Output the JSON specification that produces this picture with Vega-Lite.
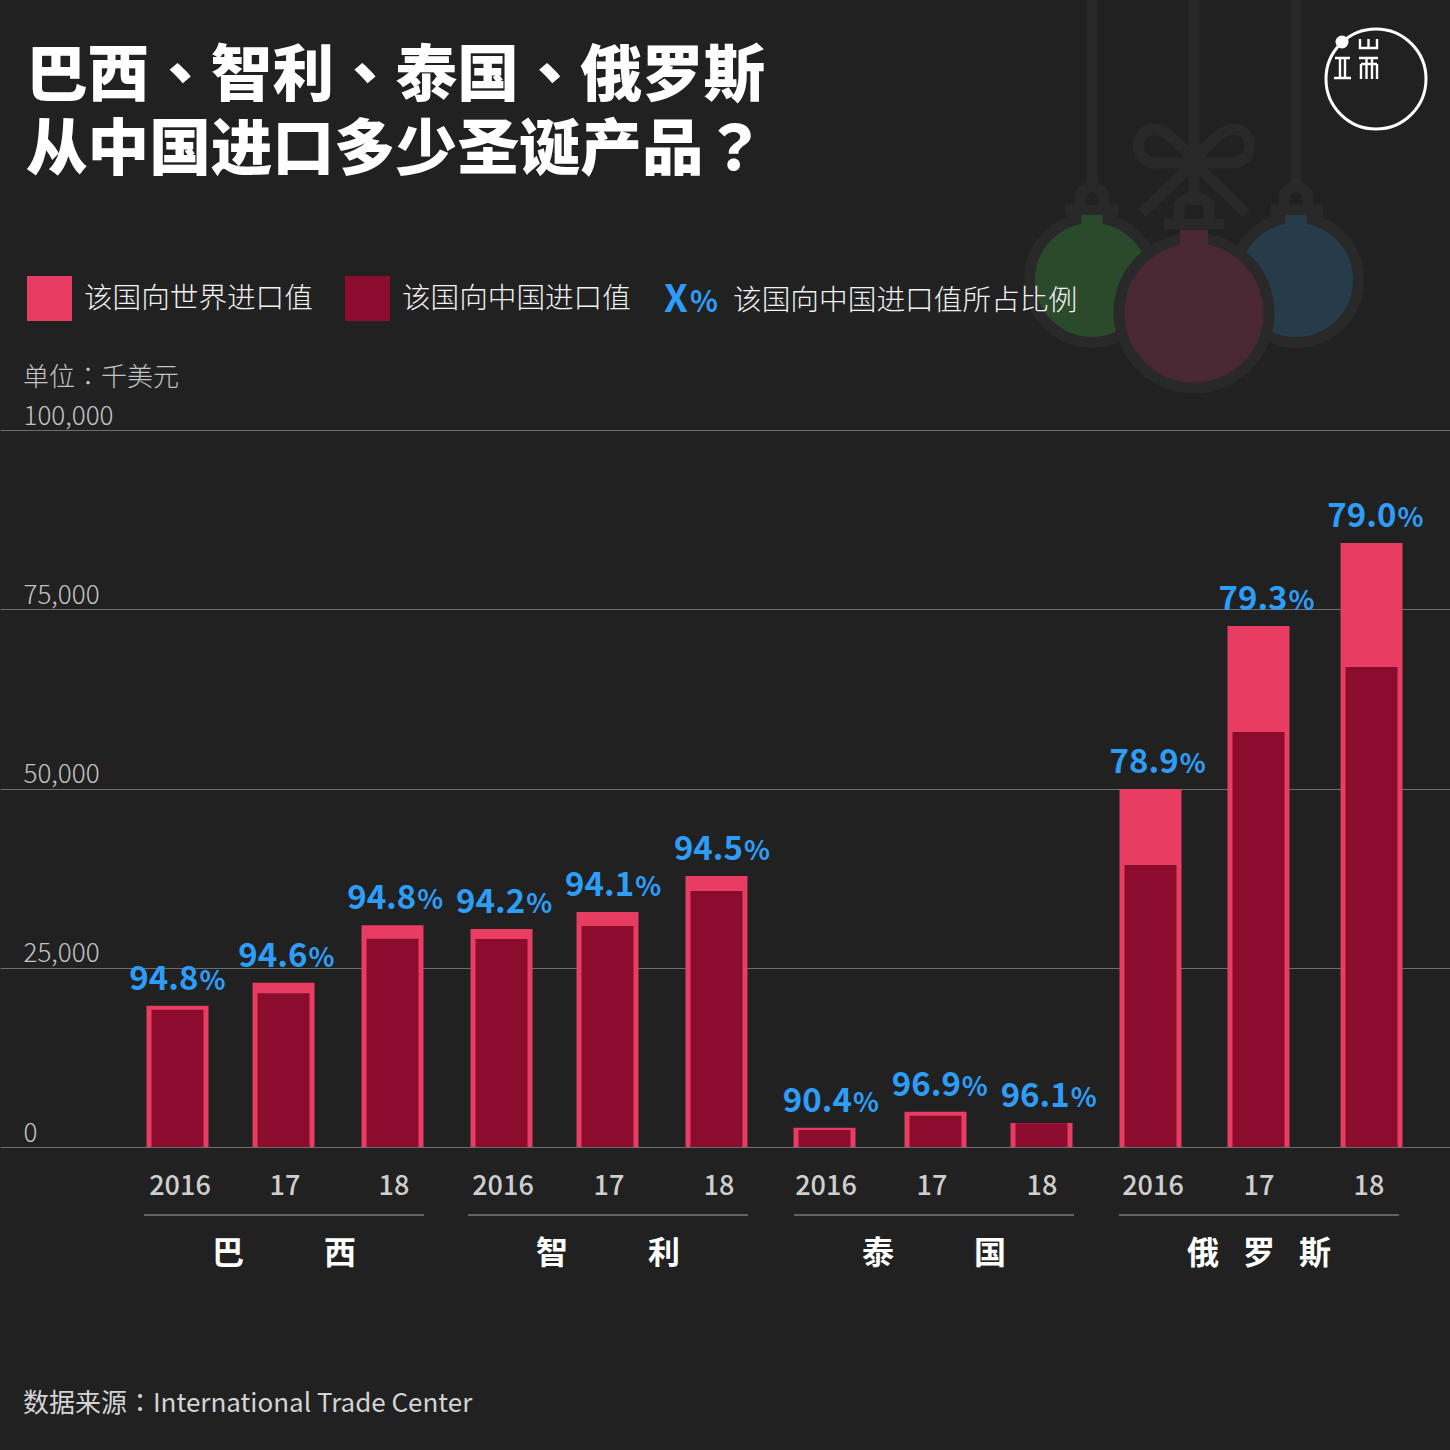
{
  "$schema": "https://vega.github.io/schema/vega-lite/v6.json",
  "width": 1450,
  "height": 1450,
  "autosize": {"type": "none"},
  "padding": 0,
  "background": "#212121",
  "view": {"stroke": null},
  "config": {"font": "Noto Sans CJK TC", "text": {"font": "Noto Sans CJK TC"}},
  "datasets": {
    "bars": [
      {"country": "巴西", "year": "2016", "slot": 0, "series": "该国向世界进口值", "value": 19720, "share": 94.8},
      {"country": "巴西", "year": "17", "slot": 1, "series": "该国向世界进口值", "value": 22930, "share": 94.6},
      {"country": "巴西", "year": "18", "slot": 2, "series": "该国向世界进口值", "value": 30930, "share": 94.8},
      {"country": "智利", "year": "2016", "slot": 3, "series": "该国向世界进口值", "value": 30420, "share": 94.2},
      {"country": "智利", "year": "17", "slot": 4, "series": "该国向世界进口值", "value": 32790, "share": 94.1},
      {"country": "智利", "year": "18", "slot": 5, "series": "该国向世界进口值", "value": 37810, "share": 94.5},
      {"country": "泰国", "year": "2016", "slot": 6, "series": "该国向世界进口值", "value": 2690, "share": 90.4},
      {"country": "泰国", "year": "17", "slot": 7, "series": "该国向世界进口值", "value": 4930, "share": 96.9},
      {"country": "泰国", "year": "18", "slot": 8, "series": "该国向世界进口值", "value": 3350, "share": 96.1},
      {"country": "俄罗斯", "year": "2016", "slot": 9, "series": "该国向世界进口值", "value": 49950, "share": 78.9},
      {"country": "俄罗斯", "year": "17", "slot": 10, "series": "该国向世界进口值", "value": 72690, "share": 79.3},
      {"country": "俄罗斯", "year": "18", "slot": 11, "series": "该国向世界进口值", "value": 84280, "share": 79.0},
      {"country": "巴西", "year": "2016", "slot": 0, "series": "该国向中国进口值", "value": 19160, "share": 94.8},
      {"country": "巴西", "year": "17", "slot": 1, "series": "该国向中国进口值", "value": 21450, "share": 94.6},
      {"country": "巴西", "year": "18", "slot": 2, "series": "该国向中国进口值", "value": 29060, "share": 94.8},
      {"country": "智利", "year": "2016", "slot": 3, "series": "该国向中国进口值", "value": 29020, "share": 94.2},
      {"country": "智利", "year": "17", "slot": 4, "series": "该国向中国进口值", "value": 30840, "share": 94.1},
      {"country": "智利", "year": "18", "slot": 5, "series": "该国向中国进口值", "value": 35720, "share": 94.5},
      {"country": "泰国", "year": "2016", "slot": 6, "series": "该国向中国进口值", "value": 2370, "share": 90.4},
      {"country": "泰国", "year": "17", "slot": 7, "series": "该国向中国进口值", "value": 4370, "share": 96.9},
      {"country": "泰国", "year": "18", "slot": 8, "series": "该国向中国进口值", "value": 3320, "share": 96.1},
      {"country": "俄罗斯", "year": "2016", "slot": 9, "series": "该国向中国进口值", "value": 39350, "share": 78.9},
      {"country": "俄罗斯", "year": "17", "slot": 10, "series": "该国向中国进口值", "value": 57900, "share": 79.3},
      {"country": "俄罗斯", "year": "18", "slot": 11, "series": "该国向中国进口值", "value": 66970, "share": 79.0}
    ],
    "groups": [
      {"label": "巴\u3000\u3000\u2002西", "first": 0, "mid": 1, "last": 2},
      {"label": "智\u3000\u3000\u2002利", "first": 3, "mid": 4, "last": 5},
      {"label": "泰\u3000\u3000\u2002国", "first": 6, "mid": 7, "last": 8},
      {"label": "俄\u2002\u2005罗\u2002\u2005斯", "first": 9, "mid": 10, "last": 11}
    ]
  },
  "resolve": {"scale": {"x": "independent"}, "axis": {"y": "independent"}},
  "layer": [
    {
      "data": {"name": "bars"},
      "transform": [{"filter": "datum.series == '该国向世界进口值'"}],
      "mark": {"type": "bar", "size": 62, "orient": "vertical"},
      "encoding": {
        "x": {"field": "slot", "type": "quantitative", "axis": null,
          "scale": {"domain": [-2,0,1,2,3,4,5,6,7,8,9,10,11,13], "range": [0,177.5,283.5,392.5,501.5,607.5,716.5,824.5,935.5,1041.5,1150.5,1258.5,1371.5,1450], "padding": 0}},
        "y": {"field": "value", "type": "quantitative", "stack": null, "title": null,
          "scale": {"domain": [-42277, 160039], "nice": false, "zero": false},
          "axis": {"values": [0, 25000, 50000, 75000, 100000], "labelExpr": "format(datum.value, ',')", "orient": "left", "domain": false, "ticks": false,
            "grid": true, "gridColor": "#6e6e6e", "gridWidth": 1, "labelAlign": "left", "labelBaseline": "alphabetic", "labelPadding": -23,
            "labelOffset": -6, "labelFontSize": 26, "labelFontWeight": 300, "labelColor": "#c4c4c4", "labelFont": "Noto Sans CJK TC"}},
        "color": {"field": "series", "type": "nominal",
          "scale": {"domain": ["该国向世界进口值", "该国向中国进口值"], "range": ["#E83C62", "#8C0C2E"]},
          "legend": {"orient": "none", "legendX": 27, "legendY": 276, "direction": "horizontal", "title": null, "symbolType": "square",
            "symbolSize": 2025, "symbolStrokeWidth": 0, "symbolOpacity": 1, "labelFontSize": 28.6, "labelColor": "#f2f2f2", "labelFont": "Noto Sans CJK TC",
            "labelFontWeight": 300, "labelOffset": 12, "columnPadding": 32, "padding": 0, "labelLimit": 400}}
      }
    },
    {
      "data": {"name": "bars"},
      "transform": [{"filter": "datum.series == '该国向中国进口值'"}],
      "mark": {"type": "bar", "size": 52, "orient": "vertical"},
      "encoding": {
        "x": {"field": "slot", "type": "quantitative", "axis": null,
          "scale": {"domain": [-2,0,1,2,3,4,5,6,7,8,9,10,11,13], "range": [0,177.5,283.5,392.5,501.5,607.5,716.5,824.5,935.5,1041.5,1150.5,1258.5,1371.5,1450], "padding": 0}},
        "y": {"field": "value", "type": "quantitative", "stack": null, "axis": null},
        "color": {"field": "series", "type": "nominal"}
      }
    },
    {
      "data": {"name": "bars"},
      "transform": [{"filter": "datum.series == '该国向世界进口值'"}],
      "mark": {"type": "text", "align": "right", "baseline": "alphabetic", "dx": 20, "dy": -16, "fontSize": 33, "fontWeight": 700, "color": "#2E9DF7"},
      "encoding": {
        "x": {"field": "slot", "type": "quantitative", "axis": null, "scale": {"domain": [0, 11], "range": [178.5, 1376.5]}},
        "y": {"field": "value", "type": "quantitative", "stack": null, "axis": null},
        "text": {"field": "share", "type": "quantitative", "format": ".1f"}
      }
    },
    {
      "data": {"name": "bars"},
      "transform": [{"filter": "datum.series == '该国向世界进口值'"}],
      "mark": {"type": "text", "align": "left", "baseline": "alphabetic", "dx": 21, "dy": -16, "fontSize": 27, "fontWeight": 700, "color": "#2E9DF7", "text": "%"},
      "encoding": {
        "x": {"field": "slot", "type": "quantitative", "axis": null, "scale": {"domain": [0, 11], "range": [178.5, 1376.5]}},
        "y": {"field": "value", "type": "quantitative", "stack": null, "axis": null}
      }
    },
    {
      "data": {"name": "bars"},
      "transform": [{"filter": "datum.series == '该国向世界进口值'"}],
      "mark": {"type": "text", "baseline": "alphabetic", "fontSize": 27, "fontWeight": 500, "color": "#cfcfcf"},
      "encoding": {
        "x": {"field": "slot", "type": "quantitative", "axis": null,
          "scale": {"domain": [0,1,2,3,4,5,6,7,8,9,10,11], "range": [180,285,394,503,609,719,826,932,1042,1153,1259,1369]}},
        "y": {"datum": -6698, "type": "quantitative", "axis": null},
        "text": {"field": "year", "type": "nominal"}
      }
    },
    {
      "data": {"name": "groups"},
      "layer": [
        {
          "mark": {"type": "rule", "color": "#7a7a7a", "strokeWidth": 1.5, "xOffset": -33, "x2Offset": 33},
          "encoding": {
            "x": {"field": "first", "type": "quantitative", "axis": null,
              "scale": {"domain": [0,2,3,5,6,8,9,11], "range": [177,391,501,715,827,1041,1152,1366]}},
            "x2": {"field": "last"},
            "y": {"datum": -9488, "type": "quantitative", "axis": null}
          }
        },
        {
          "mark": {"type": "text", "baseline": "middle", "fontSize": 32, "fontWeight": 700, "color": "#ffffff"},
          "encoding": {
            "x": {"field": "mid", "type": "quantitative", "axis": null},
            "y": {"datum": -14930, "type": "quantitative", "axis": null},
            "text": {"field": "label", "type": "nominal"}
          }
        }
      ]
    },
    {
      "data": {"values": [{}]},
      "layer": [
        {
          "mark": {"type": "point", "filled": false, "stroke": "#292929", "strokeWidth": 11, "opacity": 1, "size": 40000,
            "shape": "M-1.02,-1.85 L-1.02,0.1 M0,-1.85 L0,0.25 M1.02,-1.85 L1.02,0.1 M0,-0.2 C-0.15,-0.35 -0.3,-0.55 -0.45,-0.5 C-0.6,-0.45 -0.6,-0.2 -0.4,-0.17 L0.4,-0.17 C0.6,-0.2 0.6,-0.45 0.45,-0.5 C0.3,-0.55 0.15,-0.35 0,-0.2 M-0.52,0.33 L0,-0.17 L0.52,0.33 M-1.14,0.28 L-1.14,0.15 Q-1.02,-0.02 -0.9,0.15 L-0.9,0.28 M-1.29,0.3 L-0.76,0.3 M0.9,0.28 L0.9,0.15 Q1.02,-0.02 1.14,0.15 L1.14,0.28 M0.77,0.3 L1.29,0.3 M-0.15,0.4 L-0.15,0.25 Q0,0.08 0.15,0.25 L0.15,0.4 M-0.3,0.44 L0.3,0.44"},
          "encoding": {
            "x": {"datum": 1194, "type": "quantitative", "axis": null, "scale": {"domain": [0, 1450], "nice": false, "zero": false}},
            "y": {"datum": 134925, "type": "quantitative", "axis": null}
          }
        },
        {
          "mark": {"type": "point", "shape": "circle", "filled": true, "fill": "#2B4A2B", "stroke": "#292929", "strokeWidth": 11, "opacity": 1, "size": 15625},
          "encoding": {"x": {"datum": 1092, "type": "quantitative", "axis": null}, "y": {"datum": 120973, "type": "quantitative", "axis": null}}
        },
        {
          "mark": {"type": "point", "shape": "circle", "filled": true, "fill": "#263C4A", "stroke": "#292929", "strokeWidth": 11, "opacity": 1, "size": 15625},
          "encoding": {"x": {"datum": 1296, "type": "quantitative", "axis": null}, "y": {"datum": 120973, "type": "quantitative", "axis": null}}
        },
        {
          "mark": {"type": "rule", "color": "#2B4A2B", "strokeWidth": 21},
          "encoding": {"x": {"datum": 1092, "type": "quantitative", "axis": null}, "y": {"datum": 130042, "type": "quantitative", "axis": null}, "y2": {"datum": 127670}}
        },
        {
          "mark": {"type": "rule", "color": "#263C4A", "strokeWidth": 21},
          "encoding": {"x": {"datum": 1296, "type": "quantitative", "axis": null}, "y": {"datum": 130042, "type": "quantitative", "axis": null}, "y2": {"datum": 127670}}
        },
        {
          "mark": {"type": "point", "shape": "circle", "filled": true, "fill": "#4A2833", "stroke": "#292929", "strokeWidth": 11, "opacity": 1, "size": 22500},
          "encoding": {"x": {"datum": 1194, "type": "quantitative", "axis": null}, "y": {"datum": 116368, "type": "quantitative", "axis": null}}
        },
        {
          "mark": {"type": "rule", "color": "#4A2833", "strokeWidth": 28},
          "encoding": {"x": {"datum": 1194, "type": "quantitative", "axis": null}, "y": {"datum": 127949, "type": "quantitative", "axis": null}, "y2": {"datum": 125437}}
        },
        {
          "mark": {"type": "point", "shape": "circle", "filled": false, "stroke": "#ffffff", "strokeWidth": 3, "opacity": 1, "size": 10000},
          "encoding": {"x": {"datum": 1376, "type": "quantitative", "axis": null}, "y": {"datum": 149018, "type": "quantitative", "axis": null}}
        },
        {
          "mark": {"type": "point", "shape": "circle", "filled": true, "fill": "#ffffff", "opacity": 1, "size": 169},
          "encoding": {"x": {"datum": 1342, "type": "quantitative", "axis": null}, "y": {"datum": 154181, "type": "quantitative", "axis": null}}
        },
        {
          "mark": {"type": "point", "filled": false, "stroke": "#ffffff", "strokeWidth": 2.4, "opacity": 1, "size": 400,
            "shape": "M-2.3,0 L-0.8,0 M-2.4,2 L-0.7,2 M-1.8,0 L-1.8,2 M-1.3,0 L-1.3,2 M0.2,-1.9 L0.2,-1 L1.9,-1 L1.9,-1.9 M1.05,-1.9 L1.05,-1 M0.1,0 L2,0 M0.3,0.6 L1.9,0.6 M0.3,0.6 L0.3,2.1 M0.85,0 L0.85,2.1 M1.4,0 L1.4,2.1 M1.9,0.6 L1.9,2.1"},
          "encoding": {"x": {"datum": 1358, "type": "quantitative", "axis": null}, "y": {"datum": 151948, "type": "quantitative", "axis": null}}
        },
        {
          "mark": {"type": "text", "align": "left", "baseline": "alphabetic", "fontSize": 61.6, "fontWeight": 900, "color": "#ffffff", "text": "巴西、智利、泰国、俄罗斯"},
          "encoding": {"x": {"datum": 26, "type": "quantitative", "axis": null}, "y": {"datum": 146660, "type": "quantitative", "axis": null}}
        },
        {
          "mark": {"type": "text", "align": "left", "baseline": "alphabetic", "fontSize": 61.6, "fontWeight": 900, "color": "#ffffff", "text": "从中国进口多少圣诞产品？"},
          "encoding": {"x": {"datum": 26, "type": "quantitative", "axis": null}, "y": {"datum": 136321, "type": "quantitative", "axis": null}}
        },
        {
          "mark": {"type": "text", "align": "left", "baseline": "alphabetic", "fontSize": 38, "fontWeight": 700, "color": "#2E9DF7", "text": "X"},
          "encoding": {"x": {"datum": 664, "type": "quantitative", "axis": null}, "y": {"datum": 116507, "type": "quantitative", "axis": null}}
        },
        {
          "mark": {"type": "text", "align": "left", "baseline": "alphabetic", "fontSize": 29, "fontWeight": 700, "color": "#2E9DF7", "text": "%"},
          "encoding": {"x": {"datum": 690, "type": "quantitative", "axis": null}, "y": {"datum": 116507, "type": "quantitative", "axis": null}}
        },
        {
          "mark": {"type": "text", "align": "left", "baseline": "middle", "fontSize": 28.7, "fontWeight": 300, "color": "#f2f2f2", "text": "该国向中国进口值所占比例"},
          "encoding": {"x": {"datum": 733, "type": "quantitative", "axis": null}, "y": {"datum": 118042, "type": "quantitative", "axis": null}}
        },
        {
          "mark": {"type": "text", "align": "left", "baseline": "middle", "fontSize": 26, "fontWeight": 300, "color": "#c4c4c4", "text": "单位：千美元"},
          "encoding": {"x": {"datum": 23, "type": "quantitative", "axis": null}, "y": {"datum": 107299, "type": "quantitative", "axis": null}}
        },
        {
          "mark": {"type": "text", "align": "left", "baseline": "middle", "fontSize": 26, "fontWeight": 400, "color": "#d4d4d4", "text": "数据来源：International Trade Center"},
          "encoding": {"x": {"datum": 23, "type": "quantitative", "axis": null}, "y": {"datum": -35859, "type": "quantitative", "axis": null}}
        }
      ]
    }
  ]
}
